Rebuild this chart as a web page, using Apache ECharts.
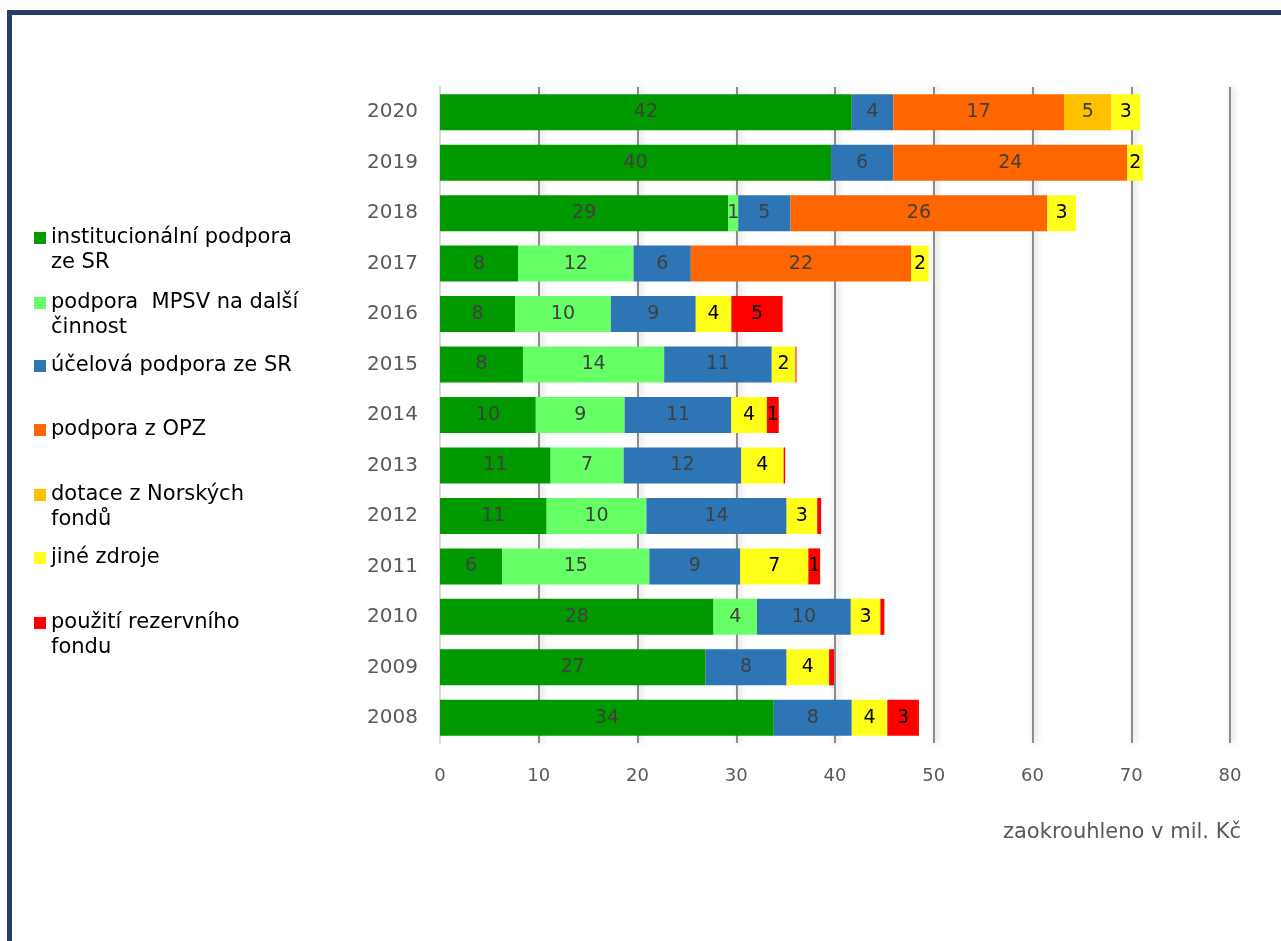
<!DOCTYPE html>
<html>
<head>
<meta charset="utf-8">
<script src="https://cdn.jsdelivr.net/npm/echarts@6/dist/echarts.min.js"></script>
<style>html,body{margin:0;padding:0;background:#fff;}#c{width:1281px;height:941px;}</style>
</head>
<body>
<div id="c"></div>
<script>
const years = ['2008','2009','2010','2011','2012','2013','2014','2015','2016','2017','2018','2019','2020'];
const seriesNames = ['institucionální podpora ze SR','podpora  MPSV na další činnost','účelová podpora ze SR','podpora z OPZ','dotace z Norských fondů','jiné zdroje','použití rezervního fondu'];
const legendLines = [['institucionální podpora','ze SR'],['podpora  MPSV na další','činnost'],['účelová podpora ze SR'],['podpora z OPZ'],['dotace z Norských','fondů'],['jiné zdroje'],['použití rezervního','fondu']];
const institucionalni = [33.8, 26.9, 27.7, 6.3, 10.8, 11.2, 9.7, 8.4, 7.6, 7.9, 29.2, 39.6, 41.7];
const mpsv            = [0, 0, 4.4, 14.9, 10.1, 7.4, 9.0, 14.3, 9.7, 11.7, 1.0, 0, 0];
const ucelova         = [7.9, 8.2, 9.5, 9.2, 14.2, 11.9, 10.8, 10.9, 8.6, 5.8, 5.3, 6.3, 4.2];
const opz             = [0, 0, 0, 0, 0, 0, 0, 0, 0, 22.3, 26.0, 23.7, 17.3];
const norske          = [0, 0, 0, 0, 0, 0, 0, 0, 0, 0, 0, 0, 4.8];
const jine            = [3.6, 4.3, 3.0, 6.9, 3.1, 4.3, 3.6, 2.4, 3.6, 1.8, 2.9, 1.6, 2.9];
const rezerva         = [3.2, 0.5, 0.4, 1.2, 0.4, 0.15, 1.2, 0.1, 5.2, 0, 0, 0, 0];
const xTicks = [0, 10, 20, 30, 40, 50, 60, 70, 80];
const unitNote = 'zaokrouhleno v mil. Kč';

const colors = ['#009900','#66FF66','#2E75B6','#FF6600','#FFC000','#FFFF1A','#FF0000'];
const labelColors = ['#404040','#404040','#404040','#404040','#404040','#000000','#000000'];
const values = [institucionalni, mpsv, ucelova, opz, norske, jine, rezerva];
const legendCenters = [238, 303, 366, 430, 495, 558, 623];
const FONT = 'DejaVu Sans';
const LH = 25;

const chart = echarts.init(document.getElementById('c'), null, {renderer: 'canvas'});

const legends = seriesNames.map(function (name, i) {
  const lines = legendLines[i];
  const twoLine = lines.length > 1;
  return {
    show: true,
    orient: 'vertical',
    left: 34,
    top: legendCenters[i] - (twoLine ? 1.5 * LH : 0.5 * LH),
    padding: 0,
    itemWidth: 12,
    itemHeight: 12,
    icon: 'rect',
    selectedMode: false,
    data: [name],
    formatter: function () { return twoLine ? ' \n' + lines[0] + '\n' + lines[1] : lines[0]; },
    textStyle: {
      fontFamily: FONT,
      fontSize: 21,
      color: '#000000',
      lineHeight: LH
    }
  };
});

const series = seriesNames.map(function (name, i) {
  return {
    name: name,
    type: 'bar',
    stack: 'total',
    barWidth: 36,
    data: values[i],
    itemStyle: { color: colors[i] },
    label: {
      show: true,
      position: 'inside',
      fontFamily: FONT,
      fontSize: 19,
      color: labelColors[i],
      formatter: function (p) { return p.value >= 0.9 ? String(Math.round(p.value)) : ''; }
    },
    emphasis: { disabled: true }
  };
});

chart.setOption({
  backgroundColor: '#ffffff',
  animation: false,
  legend: legends,
  grid: { left: 440, right: 51, top: 87, height: 656, containLabel: false },
  xAxis: {
    type: 'value',
    min: xTicks[0],
    max: xTicks[xTicks.length - 1],
    interval: 10,
    axisLine: { show: false },
    axisTick: { show: false },
    axisLabel: { fontFamily: FONT, fontSize: 18, color: '#595959', margin: 24 },
    splitLine: {
      show: true,
      showMinLine: false,
      lineStyle: { color: '#8c8c8c', width: 2, shadowColor: 'rgba(0,0,0,0.25)', shadowBlur: 6, shadowOffsetX: 2 }
    }
  },
  yAxis: {
    type: 'category',
    data: years,
    axisLine: { show: true, lineStyle: { color: '#d9d9d9', width: 2 } },
    axisTick: { show: false },
    axisLabel: { fontFamily: FONT, fontSize: 20, color: '#595959', margin: 22 }
  },
  graphic: [
    {
      type: 'rect',
      shape: { x: 9.5, y: 12.5, width: 1400, height: 1000 },
      style: { fill: 'none', stroke: '#243F6B', lineWidth: 5 },
      silent: true
    },
    {
      type: 'text',
      right: 40,
      top: 822,
      style: { text: unitNote, fontFamily: FONT, fontSize: 21, fill: '#595959' }
    }
  ],
  series: series
});
</script>
</body>
</html>
